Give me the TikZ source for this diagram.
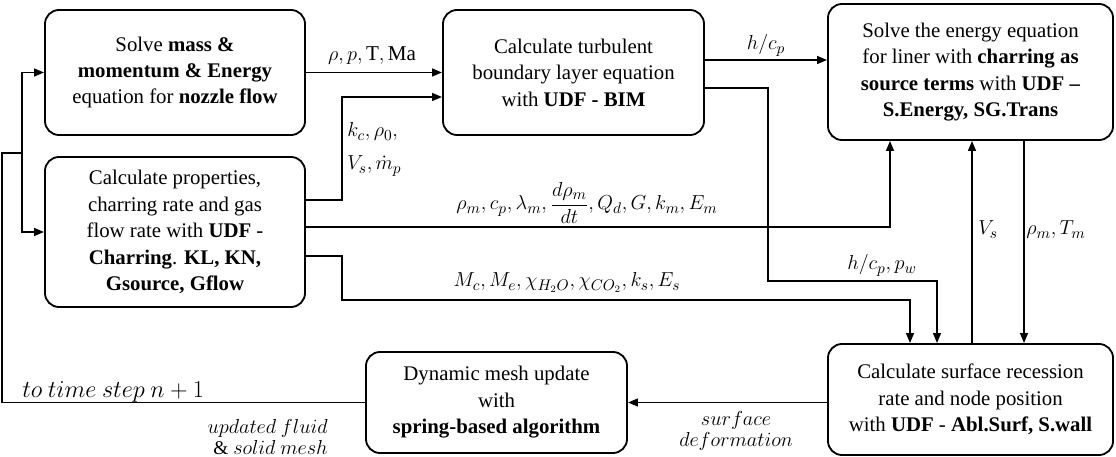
\documentclass[tikz,border=0pt]{standalone}
\usepackage{fontspec}
\setmainfont{Liberation Serif}
\usepackage{amsmath}
\usetikzlibrary{arrows.meta}

\begin{document}
\begin{tikzpicture}[x=0.025cm, y=-0.025cm,
    blocco/.style={draw, rounded corners=10pt, line width=1.3pt, align=center,
      inner sep=0pt, font=\fontsize{14.8}{18.8}\selectfont},
    linea/.style={line width=1.2pt},
    freccia/.style={linea, -{Triangle[length=7pt,width=5.5pt]}},
    etichetta/.style={inner sep=0pt, font=\fontsize{15}{18}\selectfont},
    corsivo/.style={inner sep=0pt, font=\fontsize{13.8}{15}\selectfont}]

    % Area del disegno
    \useasboundingbox (0,0) rectangle (1116,457);

    % Blocchi del ciclo di calcolo
    \node[blocco, minimum width=6.5cm, minimum height=3.125cm] (massa) at (175,72.5)
        {Solve \textbf{mass \&}\\\textbf{momentum \& Energy}\\equation for \textbf{nozzle flow}};
    \node[blocco, minimum width=6.5cm, minimum height=3.75cm] (propr) at (175,232)
        {Calculate properties,\\charring rate and gas\\flow rate with \textbf{UDF} -\\
         \textbf{Charring}. \textbf{KL, KN,}\\\textbf{Gsource, Gflow}};
    \node[blocco, minimum width=6.525cm, minimum height=3.125cm] (strato) at (573.5,72.5)
        {Calculate turbulent\\boundary layer equation\\with \textbf{UDF - BIM}};
    \node[blocco, minimum width=7.125cm, minimum height=3.4cm] (energia) at (970.5,72)
        {Solve the energy equation\\for liner with \textbf{charring as}\\
         \textbf{source terms} with \textbf{UDF –}\\\textbf{S.Energy, SG.Trans}};
    \node[blocco, minimum width=6.525cm, minimum height=2.525cm] (mesh) at (496.5,402.5)
        {Dynamic mesh update\\with\\\textbf{spring-based algorithm}};
    \node[blocco, minimum width=7.125cm, minimum height=2.775cm] (superf) at (970.5,399.5)
        {Calculate surface recession\\rate and node position\\
         with \textbf{UDF} - \textbf{Abl.Surf, S.wall}};

    % Collegamenti in alto
    \draw[freccia] (massa) -- (strato);
    \draw[freccia] (propr.east |- 0,200) -| (342,97) -- (strato.west |- 0,97);
    \draw[freccia] (strato.east |- 0,60) -- (energia.west |- 0,60);

    % Collegamenti verso il blocco della superficie
    \draw[freccia] (strato.east |- 0,88) -| (768,281) -| (937,0 |- superf.north);
    \draw[freccia] (propr.east |- 0,227) -| (890,0 |- energia.south);
    \draw[freccia] (propr.east |- 0,256) -| (342,300) -| (910,0 |- superf.north);
    \draw[freccia] (972,0 |- superf.north) -- (972,0 |- energia.south);
    \draw[freccia] (1024,0 |- energia.south) -- (1024,0 |- superf.north);
    \draw[freccia] (superf.west |- mesh.east) -- (mesh.east);

    % Ritorno al passo successivo
    \draw[linea] (mesh.west) -| (2,153) -- (22,153);
    \draw[freccia] (22,153) |- (massa.west);
    \draw[freccia] (22,153) |- (propr.west);

    % Grandezze scambiate
    \node[etichetta, anchor=base] (l1) at (372,61) {$\rho, p, \mathrm{T}, \mathrm{Ma}$};
    \node[etichetta, anchor=base west] (l2a) at (347,137) {$k_c, \rho_0,$};
    \node[etichetta, anchor=base west] (l2b) at (347,170) {$V_s, \dot{m}_p$};
    \node[etichetta, anchor=base] (l3) at (766,50) {$h/c_p$};
    \node[etichetta, anchor=base] (l4) at (587,210)
        {$\rho_m, c_p, \lambda_m, \dfrac{d\rho_m}{dt}, Q_d, G, k_m, E_m$};
    \node[etichetta, anchor=base] (l5) at (567,287)
        {$M_c, M_e, \chi_{H_2O}, \chi_{CO_2}, k_s, E_s$};
    \node[etichetta, anchor=base] (l6) at (882,270) {$h/c_p, p_w$};
    \node[etichetta, anchor=base] (l7) at (988,235) {$V_s$};
    \node[etichetta, anchor=base] (l8) at (1056,235) {$\rho_m, T_m$};

    % Note in corsivo
    \node[etichetta, anchor=base west, font=\fontsize{16}{18}\selectfont] (l9) at (22,398)
        {$to\ time\ step\ n+1$};
    \node[corsivo, anchor=east, align=right] (l10) at (328,437)
        {$updated\ fluid$\\$\&\ solid\ mesh$};
    \node[corsivo, anchor=center, align=center] (l11) at (736,431)
        {$surface$\\$deformation$};

\end{tikzpicture}
\end{document}
